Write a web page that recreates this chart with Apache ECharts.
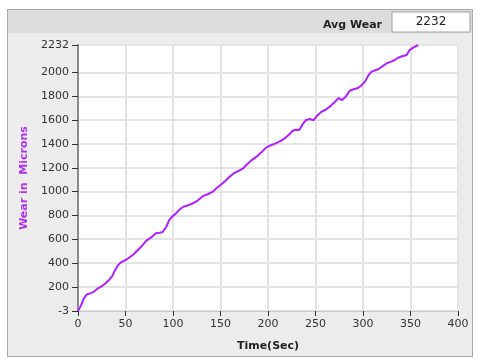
<!DOCTYPE html>
<html>
<head>
<meta charset="utf-8">
<script src="https://cdn.jsdelivr.net/npm/echarts@6/dist/echarts.min.js"></script>
<style>
  html, body { margin: 0; padding: 0; background: #fff; }
  #wrap { position: relative; width: 478px; height: 362px; }
  #panel { position: absolute; left: 7px; top: 9px; width: 464px; height: 346px;
    background: #ececec; border: 1px solid #a8a8a8; }
  #band { position: absolute; left: 8px; top: 10px; width: 464px; height: 23px; background: #dcdcdc; }
  #plot { position: absolute; left: 78px; top: 45px; width: 380px; height: 266px; background: #fff; }
  #chart { position: absolute; left: 0; top: 0; width: 478px; height: 362px; }
</style>
</head>
<body>
<div id="wrap">
  <div id="panel"></div>
  <div id="band"></div>
  <div id="plot"></div>
  <div id="chart"></div>
</div>
<script>
  // time (sec) and wear (microns)
  var timeSec = [0, 3, 6, 9, 13, 17, 21, 25, 29, 33, 36, 39, 42, 45, 49, 53, 58, 63, 68, 72,
    77, 82, 86, 89, 93, 96, 99, 103, 107, 111, 116, 121, 126, 131, 137, 142, 146, 150, 155, 159,
    164, 169, 174, 178, 183, 188, 193, 198, 203, 208, 213, 218, 222, 226, 229, 233, 236, 240, 244, 248,
    252, 256, 261, 265, 270, 274, 278, 282, 286, 290, 294, 298, 302, 306, 309, 313, 316, 320, 325, 329,
    333, 337, 341, 346, 349, 353, 358]
  var wear = [-3, 40, 100, 135, 145, 160, 188, 205, 230, 260, 290, 340, 380, 405, 420, 440, 470, 510, 550, 588,
    615, 650, 655, 660, 705, 760, 790, 815, 850, 873, 885, 902, 925, 960, 980, 1000, 1030, 1056, 1090, 1120,
    1154, 1175, 1196, 1230, 1265, 1294, 1330, 1370, 1390, 1405, 1425, 1450, 1478, 1512, 1520, 1518, 1560, 1602, 1610, 1600,
    1640, 1670, 1690, 1714, 1750, 1785, 1770, 1800, 1848, 1860, 1868, 1890, 1924, 1980, 2008, 2020, 2028, 2050, 2079, 2090,
    2104, 2125, 2137, 2148, 2190, 2210, 2232]
  var yTicks = [-3, 200, 400, 600, 800, 1000, 1200, 1400, 1600, 1800, 2000, 2232]
  var avgWear = '2232'

  var points = timeSec.map(function (t, i) { return [t, wear[i]] })
  var font = 'DejaVu Sans'

  var chart = echarts.init(document.getElementById('chart'))
  chart.setOption({
    animation: false,
    backgroundColor: 'transparent',
    graphic: [
      // avg wear box
      { type: 'text', z: 5, style: { x: 382, y: 25, text: 'Avg Wear', align: 'right', verticalAlign: 'middle',
        font: 'bold 11px "' + font + '"', fill: '#222' } },
      { type: 'rect', z: 5, shape: { x: 392, y: 12, width: 78, height: 20 },
        style: { fill: '#fff', stroke: '#a0a0a0', lineWidth: 1 } },
      { type: 'text', z: 6, style: { x: 431, y: 22, text: avgWear, align: 'center', verticalAlign: 'middle',
        font: '12px "' + font + '"', fill: '#222' } }
    ],
    grid: {
      left: 78,
      right: 20,
      top: 45,
      bottom: 51,
      show: true,
      backgroundColor: 'transparent',
      borderColor: '#b8b8b8',
      borderWidth: 1
    },
    xAxis: {
      type: 'value',
      min: 0,
      max: 400,
      interval: 50,
      name: 'Time(Sec)',
      nameLocation: 'middle',
      nameGap: 30,
      nameTextStyle: { fontFamily: font, fontWeight: 'bold', fontSize: 11, color: '#222' },
      axisLine: { show: true, onZero: false, lineStyle: { color: '#c8c8c8' } },
      axisTick: { show: true, inside: false, length: 5, lineStyle: { color: '#333', width: 1 } },
      axisLabel: { fontFamily: font, fontSize: 11, color: '#333', margin: 8 },
      splitLine: { show: true, lineStyle: { color: '#e4e4e4', width: 2 } }
    },
    yAxis: {
      type: 'value',
      min: -3,
      max: 2232,
      name: 'Wear in  Microns',
      nameLocation: 'middle',
      nameGap: 40,
      nameTextStyle: { fontFamily: font, fontWeight: 'bold', fontSize: 11, color: '#b030f0' },
      axisLine: { show: true, lineStyle: { color: '#8a8a8a', width: 2 } },
      axisTick: { show: true, inside: false, length: 6, customValues: yTicks, lineStyle: { color: '#333', width: 1 } },
      axisLabel: { fontFamily: font, fontSize: 11, color: '#333', margin: 9, customValues: yTicks,
        formatter: function (v) { return String(v) } },
      splitLine: { show: true, lineStyle: { color: '#e4e4e4', width: 2 } }
    },
    series: [
      {
        name: 'Wear',
        type: 'line',
        data: points,
        showSymbol: false,
        smooth: false,
        lineStyle: { color: '#b020ff', width: 2 },
        itemStyle: { color: '#b020ff' }
      }
    ]
  })
</script>
</body>
</html>
